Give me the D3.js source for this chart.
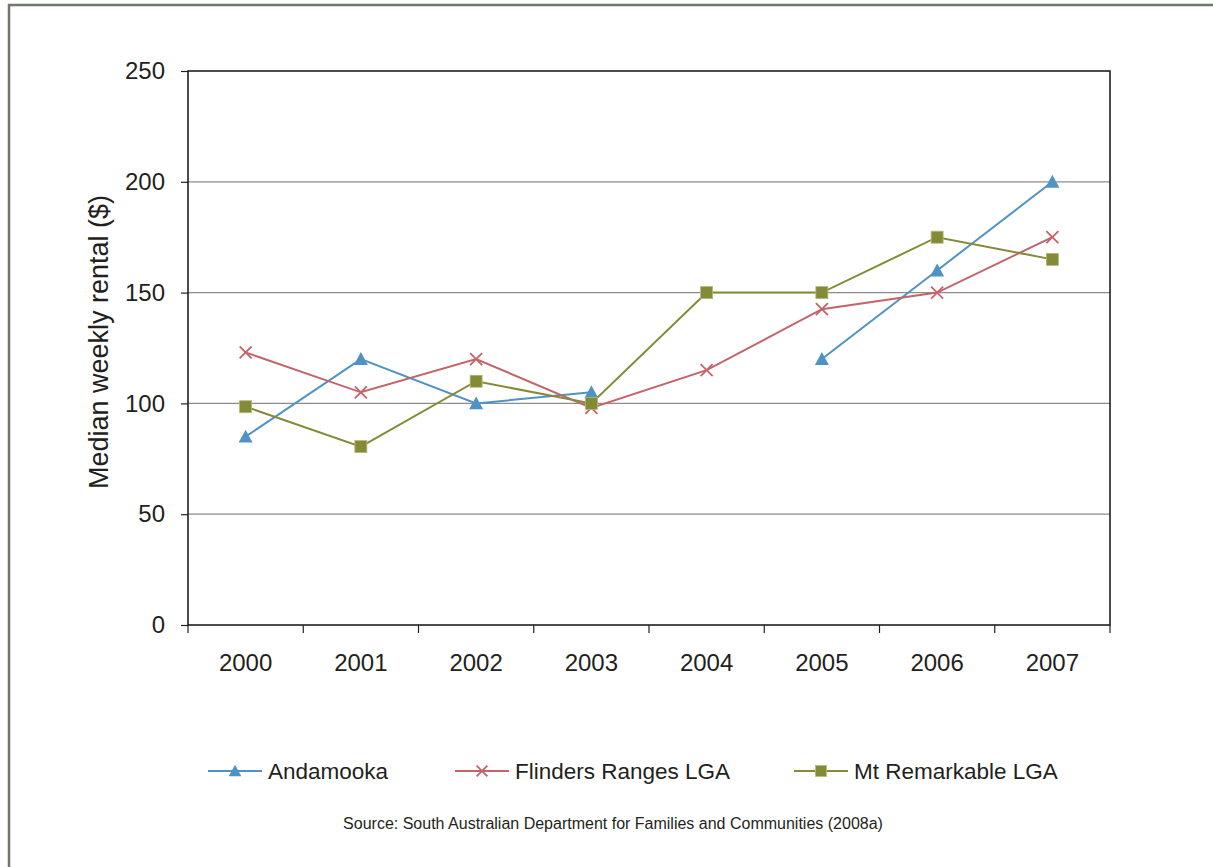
<!DOCTYPE html>
<html>
<head>
<meta charset="utf-8">
<script src="https://cdn.jsdelivr.net/npm/d3@7"></script>
<style>
  html, body { margin: 0; padding: 0; background: #fff; }
  svg { display: block; font-family: "Liberation Sans", Arial, sans-serif; }
</style>
</head>
<body>
<svg id="chart" width="1213" height="867"></svg>
<script>
// Median weekly rental, 2000–2007
const years = ["2000", "2001", "2002", "2003", "2004", "2005", "2006", "2007"];
const andamooka = [85, 120, 100, 105, null, 120, 160, 200];
const flinders = [123, 105, 120, 98, 115, 142.5, 150, 175];
const mtRemarkable = [98.5, 80.5, 110, 100, 150, 150, 175, 165];
const yTicks = [0, 50, 100, 150, 200, 250];

const seriesList = [
  { name: "Andamooka", values: andamooka, color: "#4f93c4", marker: "triangle" },
  { name: "Flinders Ranges LGA", values: flinders, color: "#c4646a", marker: "cross" },
  { name: "Mt Remarkable LGA", values: mtRemarkable, color: "#858a37", marker: "square" }
];

const svg = d3.select("#chart");
const plot = { left: 188, right: 1110, top: 71, bottom: 625 };

// outer frame
svg.append("rect")
  .attr("x", 9).attr("y", 5)
  .attr("width", 1230).attr("height", 900)
  .attr("fill", "#fff").attr("stroke", "#6e786b").attr("stroke-width", 2.5);

const x = d3.scaleBand().domain(years).range([plot.left, plot.right]);
const y = d3.scaleLinear().domain([0, 250]).range([plot.bottom, plot.top]);

// horizontal gridlines
svg.append("g").selectAll("line")
  .data(yTicks.filter(t => t > 0 && t < 250))
  .join("line")
  .attr("x1", plot.left).attr("x2", plot.right)
  .attr("y1", d => y(d)).attr("y2", d => y(d))
  .attr("stroke", "#8c8c8c").attr("stroke-width", 1.3);

// plot border
svg.append("rect")
  .attr("x", plot.left).attr("y", plot.top)
  .attr("width", plot.right - plot.left).attr("height", plot.bottom - plot.top)
  .attr("fill", "none").attr("stroke", "#231f20").attr("stroke-width", 1.6);

// y axis
const yAxis = svg.append("g")
  .attr("transform", `translate(${plot.left},0)`)
  .call(d3.axisLeft(y).tickValues(yTicks).tickSize(7).tickPadding(16));
yAxis.select(".domain").remove();
yAxis.selectAll(".tick line").attr("stroke", "#231f20").attr("stroke-width", 1.2);
yAxis.selectAll(".tick text")
  .attr("font-size", 24).attr("fill", "#231f20")
  .attr("font-family", "Liberation Sans, Arial, sans-serif");

// x axis: tick marks at band boundaries, labels at band centres
const xg = svg.append("g");
const bounds = years.map(yr => x(yr)).concat([plot.right]);
xg.selectAll("line").data(bounds).join("line")
  .attr("x1", d => d).attr("x2", d => d)
  .attr("y1", plot.bottom).attr("y2", plot.bottom + 8)
  .attr("stroke", "#231f20").attr("stroke-width", 1.2);
xg.selectAll("text").data(years).join("text")
  .attr("x", d => x(d) + x.bandwidth() / 2)
  .attr("y", plot.bottom + 46)
  .attr("text-anchor", "middle")
  .attr("font-size", 24).attr("fill", "#231f20")
  .text(d => d);

// y axis title
svg.append("text")
  .attr("transform", `translate(108,342) rotate(-90)`)
  .attr("text-anchor", "middle")
  .attr("font-size", 27).attr("fill", "#231f20")
  .text("Median weekly rental ($)");

function drawMarker(g, type, color, cx, cy, scale = 1) {
  if (type === "triangle") {
    const s = 7 * scale;
    g.append("path")
      .attr("d", `M${cx},${cy - s} L${cx + s},${cy + s * 0.85} L${cx - s},${cy + s * 0.85} Z`)
      .attr("fill", color);
  } else if (type === "square") {
    const s = 6 * scale;
    g.append("rect")
      .attr("x", cx - s).attr("y", cy - s)
      .attr("width", 2 * s).attr("height", 2 * s)
      .attr("fill", color).attr("stroke", "#b5b87a").attr("stroke-width", 0.8);
  } else {
    const s = 6 * scale;
    g.append("path")
      .attr("d", `M${cx - s},${cy - s} L${cx + s},${cy + s} M${cx - s},${cy + s} L${cx + s},${cy - s}`)
      .attr("stroke", color).attr("stroke-width", 1.8).attr("fill", "none");
  }
}

const cxOf = i => x(years[i]) + x.bandwidth() / 2;
const line = d3.line()
  .defined(d => d != null)
  .x((d, i) => cxOf(i))
  .y(d => y(d));

seriesList.forEach(s => {
  const g = svg.append("g");
  g.append("path")
    .datum(s.values)
    .attr("d", line)
    .attr("fill", "none")
    .attr("stroke", s.color)
    .attr("stroke-width", 2);
  s.values.forEach((v, i) => {
    if (v != null) drawMarker(g, s.marker, s.color, cxOf(i), y(v));
  });
});

// legend
const legendItems = [
  { x: 208, series: seriesList[0] },
  { x: 455, series: seriesList[1] },
  { x: 794, series: seriesList[2] }
];
const ly = 771;
legendItems.forEach(it => {
  const g = svg.append("g");
  g.append("line")
    .attr("x1", it.x).attr("x2", it.x + 54)
    .attr("y1", ly).attr("y2", ly)
    .attr("stroke", it.series.color).attr("stroke-width", 2);
  drawMarker(g, it.series.marker, it.series.color, it.x + 27, ly, 0.9);
  g.append("text")
    .attr("x", it.x + 60).attr("y", ly + 8)
    .attr("font-size", 22.5).attr("fill", "#231f20")
    .text(it.series.name);
});

// source note
svg.append("text")
  .attr("x", 613).attr("y", 829)
  .attr("text-anchor", "middle")
  .attr("font-size", 16).attr("fill", "#231f20")
  .text("Source: South Australian Department for Families and Communities (2008a)");
</script>
</body>
</html>
